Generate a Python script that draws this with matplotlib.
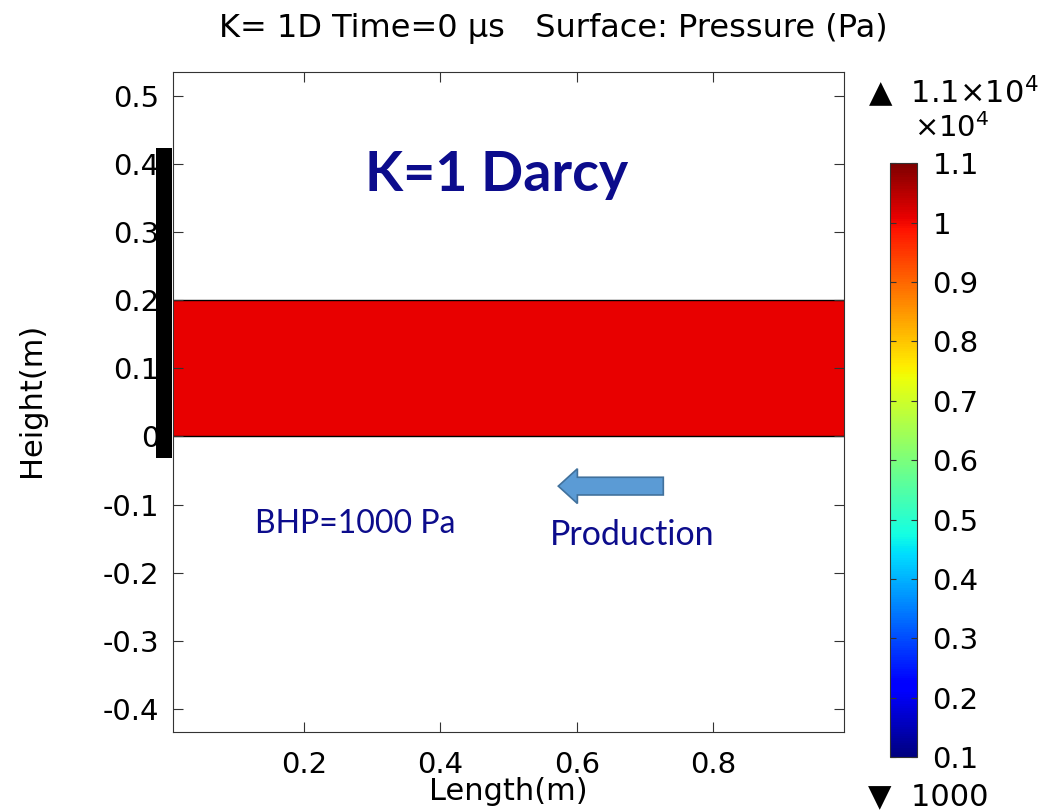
import numpy as np
import matplotlib
matplotlib.use("Agg")
import matplotlib.pyplot as plt
from matplotlib.patches import Rectangle, FancyArrow
from matplotlib.cm import ScalarMappable
from matplotlib.colors import Normalize

# geometry of the reservoir (m) and pressures (Pa)
length = 1.0
height = 0.2
well_x = [-0.017, 0.007]
well_y = [-0.031, 0.424]
p_init = 1.01e4
p_min = 1000
p_max = 1.1e4
cbar_ticks = [0.1, 0.2, 0.3, 0.4, 0.5, 0.6, 0.7, 0.8, 0.9, 1.0, 1.1]
x_ticks = [0.2, 0.4, 0.6, 0.8]
y_ticks = [-0.4, -0.3, -0.2, -0.1, 0, 0.1, 0.2, 0.3, 0.4, 0.5]

plt.rcParams['font.family'] = 'DejaVu Sans'
fig = plt.figure(figsize=(10.46, 8.1), dpi=100)
ax = fig.add_axes([0.1654, 0.0963, 0.6415, 0.8148])

cmap = plt.get_cmap('jet')
norm = Normalize(p_min, p_max)

# reservoir block
ax.add_patch(Rectangle((0, 0), length, height, facecolor=cmap(norm(p_init)),
                       edgecolor='black', linewidth=1))
# well bar
ax.add_patch(Rectangle((well_x[0], well_y[0]), well_x[1] - well_x[0],
                       well_y[1] - well_y[0], facecolor='black',
                       edgecolor='none', clip_on=False, zorder=5))

ax.set_xlim(0.008, 0.992)
ax.set_ylim(-0.434, 0.535)
ax.set_xticks(x_ticks)
ax.set_yticks(y_ticks)
ax.set_xticklabels(['%g' % v for v in x_ticks])
ax.set_yticklabels(['%g' % v for v in y_ticks])
ax.tick_params(direction='in', length=7, top=True, right=True,
               labelsize=21, color='#333333')
ax.tick_params(axis='y', pad=10)
ax.tick_params(axis='x', pad=14)
for s in ax.spines.values():
    s.set_color('#333333')
ax.set_xlabel('Length(m)', fontsize=22)
ax.set_ylabel('Height(m)', fontsize=22)
ax.xaxis.set_label_coords(0.5, -0.068)
ax.yaxis.set_label_coords(-0.19, 0.503)

# annotations
ax.text(0.483, 0.384, 'K=1 Darcy', color='#0c0c8c', fontsize=40,
        fontweight='bold', family='Lato', ha='center', va='center')
ax.text(0.128, -0.128, 'BHP=1000 Pa', color='#0c0c8c', fontsize=23,
        family='Lato', ha='left', va='center')
ax.text(0.561, -0.145, 'Production', color='#0c0c8c', fontsize=24.5,
        family='Lato', ha='left', va='center')
ax.add_patch(FancyArrow(0.727, -0.073, -0.126, 0, width=0.026,
                        head_width=0.051, head_length=0.028,
                        length_includes_head=False, facecolor='#5b9bd5',
                        edgecolor='#41719c', linewidth=1.2))

fig.text(0.529, 0.965, 'K= 1D Time=0 \u00b5s   Surface: Pressure (Pa)',
         ha='center', va='center', fontsize=23)

# colorbar
cax = fig.add_axes([0.851, 0.0654, 0.0258, 0.733])
sm = ScalarMappable(norm=norm, cmap=cmap)
cb = fig.colorbar(sm, cax=cax)
cb.set_ticks([t * 1e4 for t in cbar_ticks])
cb.set_ticklabels(['%g' % t for t in cbar_ticks])
cax.tick_params(direction='in', length=4, left=True, right=True,
                labelsize=21, color='#333333', pad=11)
cb.outline.set_edgecolor('#333333')

fig.text(0.83, 0.887, '\u25b2  1.1\u00d710$^{4}$', fontsize=22, va='center')
fig.text(0.874, 0.842, '\u00d710$^{4}$', fontsize=21, va='center')
fig.text(0.83, 0.016, '\u25bc  1000', fontsize=22, va='center')

fig.savefig('out.png', dpi=100)
